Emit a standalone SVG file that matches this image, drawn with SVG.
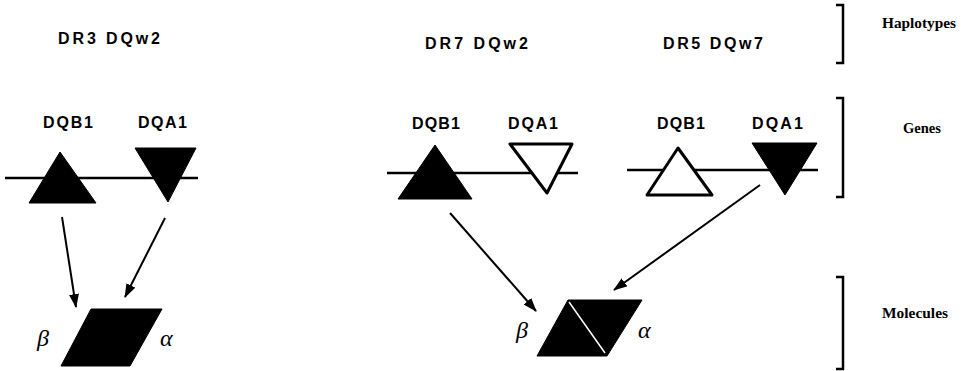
<svg xmlns="http://www.w3.org/2000/svg" width="965" height="371" viewBox="0 0 965 371">
<style>
.lbl{font-family:"Liberation Sans",Arial,sans-serif;font-weight:bold;font-size:16px;fill:#000}
.side{font-family:"Liberation Serif","Times New Roman",serif;font-weight:bold;font-size:15px;fill:#000}
.greek{font-family:"Liberation Serif","Times New Roman",serif;font-style:italic;font-size:24px;fill:#000}
.chrom{stroke:#000;stroke-width:2.5;fill:none}
.open{fill:#fff;stroke:#000;stroke-width:3;stroke-linejoin:round}
.solid{fill:#000;stroke:#000;stroke-width:1;stroke-linejoin:round}
.arrow{stroke:#000;stroke-width:2;fill:none;marker-end:url(#ah)}
.brk{stroke:#000;stroke-width:2.5;fill:none}
</style>
<defs>
<marker id="ah" viewBox="0 0 14 10" refX="13" refY="5" markerWidth="7" markerHeight="5" orient="auto" markerUnits="strokeWidth">
<path d="M0,0 L14,5 L0,10 Z" fill="#000"/>
</marker>
</defs>
<rect width="965" height="371" fill="#fff"/>

<g id="hap-DR3"><text class="lbl" x="58" y="44" textLength="102" lengthAdjust="spacing">DR3 DQw2</text></g>
<g id="hap-DR7"><text class="lbl" x="425" y="49" textLength="103" lengthAdjust="spacing">DR7 DQw2</text></g>
<g id="hap-DR5"><text class="lbl" x="663" y="49" textLength="100" lengthAdjust="spacing">DR5 DQw7</text></g>

<g id="chromosomes">
<line class="chrom" x1="5" y1="178" x2="198" y2="178"/>
<line class="chrom" x1="387" y1="173" x2="578" y2="173"/>
<line class="chrom" x1="627" y1="170" x2="818" y2="170"/>
</g>

<g id="DR3-DQB1">
<text class="lbl" x="43" y="128" textLength="50" lengthAdjust="spacing">DQB1</text>
<polygon class="solid" points="60,152 96,203 29,203"/>
</g>
<g id="DR3-DQA1">
<text class="lbl" x="138" y="128" textLength="49" lengthAdjust="spacing">DQA1</text>
<polygon class="solid" points="135,148 196,148 168,202"/>
</g>

<g id="DR7-DQB1">
<text class="lbl" x="412" y="129" textLength="48" lengthAdjust="spacing">DQB1</text>
<polygon class="solid" points="435,145 472,199 398,199"/>
</g>
<g id="DR7-DQA1">
<text class="lbl" x="508" y="129" textLength="50" lengthAdjust="spacing">DQA1</text>
<polygon class="open" points="510,144 572,144 547,193"/>
</g>

<g id="DR5-DQB1">
<text class="lbl" x="657" y="129" textLength="48" lengthAdjust="spacing">DQB1</text>
<polygon class="open" points="678,148 712,195 647,195"/>
</g>
<g id="DR5-DQA1">
<text class="lbl" x="752" y="129" textLength="51" lengthAdjust="spacing">DQA1</text>
<polygon class="solid" points="752,143 817,143 785,195"/>
</g>

<g id="molecule-left">
<polygon class="solid" points="91,309 162,309 130,366 61,366"/>
<text class="greek" x="37" y="346">β</text>
<text class="greek" x="160" y="346">α</text>
</g>

<g id="molecule-mid">
<polygon class="solid" points="568,300 642,300 607,356 537,356"/>
<line x1="569" y1="302" x2="605" y2="353" stroke="#fff" stroke-width="1.5"/>
<text class="greek" x="516" y="338">β</text>
<text class="greek" x="638" y="338">α</text>
</g>

<g id="connectors">
<line class="arrow" x1="62" y1="217" x2="76" y2="307"/>
<line class="arrow" x1="165" y1="218" x2="125" y2="297"/>
<line class="arrow" x1="450" y1="213" x2="536" y2="311"/>
<line class="arrow" x1="760" y1="185" x2="614" y2="290"/>
</g>

<g id="brackets">
<polyline class="brk" points="836,5 843,5 843,63 836,63"/>
<polyline class="brk" points="836,98 843,98 843,197 836,197"/>
<polyline class="brk" points="836,277 843,277 843,369 836,369"/>
</g>

<g id="levels">
<text class="side" x="882" y="28" textLength="74" lengthAdjust="spacingAndGlyphs">Haplotypes</text>
<text class="side" x="903" y="133" textLength="38" lengthAdjust="spacingAndGlyphs">Genes</text>
<text class="side" x="882" y="318" textLength="66" lengthAdjust="spacingAndGlyphs">Molecules</text>
</g>
</svg>
